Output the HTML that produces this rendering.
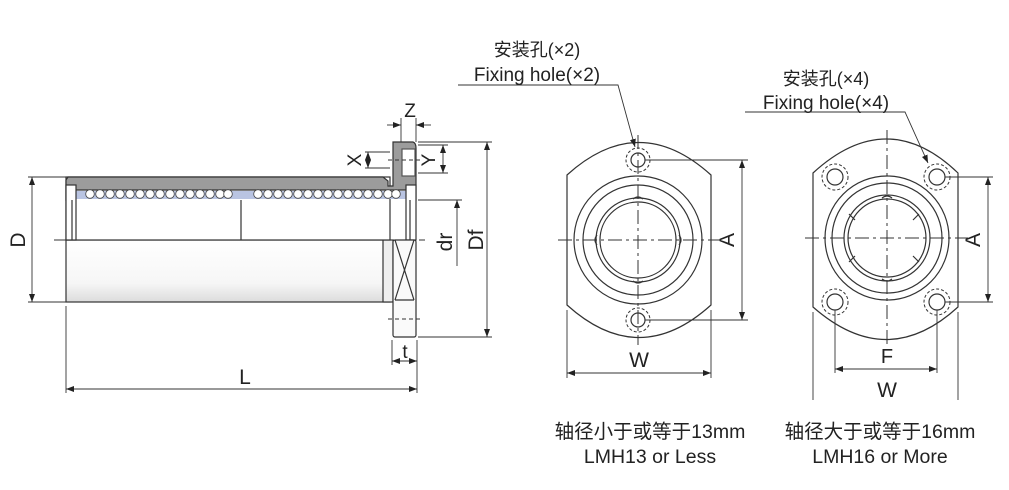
<!DOCTYPE html>
<html><head><meta charset="utf-8"><style>
html,body{margin:0;padding:0;background:#fff;width:1009px;height:490px;overflow:hidden}
text{font-family:"Liberation Sans","Noto Sans CJK SC",sans-serif;fill:#222}
</style></head><body>
<svg width="1009" height="490" viewBox="0 0 1009 490" xmlns="http://www.w3.org/2000/svg">
<defs>
<linearGradient id="tg" x1="0" y1="0" x2="0" y2="1">
<stop offset="0" stop-color="#ffffff"/><stop offset="0.7" stop-color="#f6f6f6"/><stop offset="1" stop-color="#dcdcdc"/></linearGradient>
<marker id="ar" markerWidth="8" markerHeight="6" refX="8" refY="3" orient="auto-start-reverse" markerUnits="userSpaceOnUse"><path d="M0,0 L8,3 L0,6 Z" fill="#222"/></marker>
</defs>
<g stroke="#333" stroke-width="1.2" fill="none">
<rect x="66" y="240" width="324" height="62" fill="url(#tg)"/>
<rect x="383" y="240" width="10" height="62" fill="#eee"/>
<rect x="66" y="177" width="324" height="63" fill="#fff"/>
<path d="M68,177 L383,177 L388,181 L388,186 L393,186 L393,142 L413,142 Q416,143 416,148 L416,200 L408,200 L408,190 L75,190 L75,200 L66,200 L66,180 Z" fill="#9c9c9c"/>
<rect x="402" y="149" width="13" height="27" fill="#fff" stroke="#555"/>
<rect x="75" y="191" width="333" height="8" fill="#b9c4e2" stroke="none"/>
<rect x="66" y="185" width="10" height="55" fill="#fff"/>
<rect x="406" y="185" width="10" height="55" fill="#fff"/>
<line x1="72" y1="200" x2="72" y2="240"/><line x1="410" y1="200" x2="410" y2="240"/>
<line x1="241" y1="200" x2="241" y2="240"/>
<rect x="393" y="240" width="23" height="97" rx="2" fill="#fafafa"/>
<line x1="395" y1="240" x2="414" y2="300"/><line x1="414" y1="240" x2="395" y2="300"/>
<line x1="395" y1="300" x2="414" y2="300"/>
<line x1="388" y1="319" x2="420" y2="319" stroke-dasharray="4,3" stroke-width="1"/>
<line x1="388" y1="160" x2="420" y2="160" stroke-dasharray="4,3" stroke-width="1"/>
<line x1="54" y1="240" x2="425" y2="240" stroke-dasharray="60,5,3,5" stroke-width="1"/>
</g>
<g fill="#fff" stroke="#444" stroke-width="0.8">
<circle cx="90" cy="194" r="4.3"/><circle cx="100" cy="194" r="4.3"/><circle cx="110" cy="194" r="4.3"/><circle cx="120" cy="194" r="4.3"/><circle cx="130" cy="194" r="4.3"/><circle cx="140" cy="194" r="4.3"/><circle cx="150" cy="194" r="4.3"/><circle cx="160" cy="194" r="4.3"/><circle cx="170" cy="194" r="4.3"/><circle cx="180" cy="194" r="4.3"/><circle cx="190" cy="194" r="4.3"/><circle cx="200" cy="194" r="4.3"/><circle cx="210" cy="194" r="4.3"/><circle cx="220" cy="194" r="4.3"/><circle cx="228" cy="194" r="4.3"/>
<circle cx="258" cy="194" r="4.3"/><circle cx="268" cy="194" r="4.3"/><circle cx="278" cy="194" r="4.3"/><circle cx="288" cy="194" r="4.3"/><circle cx="298" cy="194" r="4.3"/><circle cx="308" cy="194" r="4.3"/><circle cx="318" cy="194" r="4.3"/><circle cx="328" cy="194" r="4.3"/><circle cx="338" cy="194" r="4.3"/><circle cx="348" cy="194" r="4.3"/><circle cx="358" cy="194" r="4.3"/><circle cx="368" cy="194" r="4.3"/><circle cx="378" cy="194" r="4.3"/><circle cx="388" cy="194" r="4.3"/><circle cx="396" cy="194" r="4.3"/>
</g>
<g stroke="#333" stroke-width="0.9" fill="none">
<line x1="28" y1="177" x2="66" y2="177"/><line x1="28" y1="302" x2="66" y2="302"/>
<line x1="32" y1="177" x2="32" y2="302" marker-start="url(#ar)" marker-end="url(#ar)"/>
<line x1="66" y1="306" x2="66" y2="393"/><line x1="417" y1="340" x2="417" y2="393"/>
<line x1="66" y1="389" x2="417" y2="389" marker-start="url(#ar)" marker-end="url(#ar)"/>
<line x1="392" y1="340" x2="392" y2="365"/>
<line x1="392" y1="361" x2="417" y2="361" marker-start="url(#ar)" marker-end="url(#ar)"/>
<line x1="401" y1="118" x2="401" y2="142"/><line x1="416" y1="118" x2="416" y2="142"/>
<line x1="387" y1="125" x2="401" y2="125" marker-end="url(#ar)"/><line x1="431" y1="125" x2="416" y2="125" marker-end="url(#ar)"/>
<line x1="365" y1="152" x2="390" y2="152"/><line x1="365" y1="168" x2="390" y2="168"/>
<line x1="368" y1="152" x2="368" y2="168" marker-start="url(#ar)" marker-end="url(#ar)"/>
<line x1="418" y1="145" x2="448" y2="145"/><line x1="418" y1="173" x2="448" y2="173"/>
<line x1="443" y1="145" x2="443" y2="173" marker-start="url(#ar)" marker-end="url(#ar)"/>
<line x1="418" y1="200" x2="462" y2="200"/>
<line x1="457" y1="200" x2="457" y2="266" marker-start="url(#ar)"/>
<line x1="418" y1="142" x2="492" y2="142"/><line x1="418" y1="337" x2="492" y2="337"/>
<line x1="487" y1="142" x2="487" y2="337" marker-start="url(#ar)" marker-end="url(#ar)"/>
</g>
<g font-size="21">
<text x="25" y="240" transform="rotate(-90 25 240)" text-anchor="middle">D</text>
<text x="245" y="384" text-anchor="middle">L</text>
<text x="405" y="358" text-anchor="middle" font-size="19">t</text>
<text x="410" y="117" text-anchor="middle" font-size="19">Z</text>
<text x="361" y="160" transform="rotate(-90 361 160)" text-anchor="middle" font-size="19">X</text>
<text x="435" y="160" transform="rotate(-90 435 160)" text-anchor="middle" font-size="19">Y</text>
<text x="452" y="242" transform="rotate(-90 452 242)" text-anchor="middle">dr</text>
<text x="483" y="240" transform="rotate(-90 483 240)" text-anchor="middle">Df</text>
</g>

<g stroke="#333" stroke-width="1.2" fill="none">
<path d="M567,175 Q639,110 711,175 L711,305 Q639,370 567,305 Z" fill="#fff"/>
<circle cx="638" cy="240" r="64"/><circle cx="638" cy="240" r="55"/>
<circle cx="638" cy="240" r="42"/><circle cx="638" cy="240" r="38"/>
<circle cx="638" cy="160" r="7"/><circle cx="638" cy="160" r="12" stroke-dasharray="3,2" stroke-width="1"/>
<circle cx="638" cy="320" r="7"/><circle cx="638" cy="320" r="12" stroke-dasharray="3,2" stroke-width="1"/>
<path d="M633,199 q5,-4 10,0 M633,281 q5,4 10,0 M597,235 q-4,5 0,10 M679,235 q4,5 0,10"/>
<line x1="558" y1="240" x2="720" y2="240" stroke-dasharray="14,4,3,4" stroke-width="1"/>
<line x1="638" y1="135" x2="638" y2="345" stroke-dasharray="14,4,3,4" stroke-width="1"/>
<line x1="645" y1="160" x2="748" y2="160" stroke-width="0.9"/><line x1="645" y1="320" x2="748" y2="320" stroke-width="0.9"/>
<line x1="742" y1="160" x2="742" y2="320" stroke-width="0.9" marker-start="url(#ar)" marker-end="url(#ar)"/>
<line x1="567" y1="310" x2="567" y2="378" stroke-width="0.9"/><line x1="711" y1="310" x2="711" y2="378" stroke-width="0.9"/>
<line x1="567" y1="373" x2="711" y2="373" stroke-width="0.9" marker-start="url(#ar)" marker-end="url(#ar)"/>
<path d="M458,85 L618,85 L635,147" stroke-width="0.9" marker-end="url(#ar)"/>
</g>
<text x="734" y="240" transform="rotate(-90 734 240)" text-anchor="middle" font-size="21">A</text>
<text x="639" y="367" text-anchor="middle" font-size="21">W</text>
<text x="537" y="56" text-anchor="middle" font-size="18">安装孔(×2)</text>
<text x="537" y="81" text-anchor="middle" font-size="19">Fixing hole(×2)</text>

<g stroke="#333" stroke-width="1.2" fill="none">
<path d="M813,173 Q887,105 958,173 L958,307 Q887,372 813,307 Z" fill="#fff"/>
<circle cx="887" cy="238" r="62"/><circle cx="887" cy="238" r="55"/>
<circle cx="887" cy="238" r="43"/><circle cx="887" cy="238" r="39"/>
<circle cx="835" cy="177" r="8"/><circle cx="835" cy="177" r="13" stroke-dasharray="3,2" stroke-width="1"/>
<circle cx="937" cy="177" r="8"/><circle cx="937" cy="177" r="13" stroke-dasharray="3,2" stroke-width="1"/>
<circle cx="835" cy="302" r="8"/><circle cx="835" cy="302" r="13" stroke-dasharray="3,2" stroke-width="1"/>
<circle cx="937" cy="302" r="8"/><circle cx="937" cy="302" r="13" stroke-dasharray="3,2" stroke-width="1"/>
<path d="M882,198 q5,-4 10,0 M882,279 q5,4 10,0 M849,214 l6,6 M919,214 l-6,6 M849,262 l6,-6 M919,262 l-6,-6"/>
<line x1="805" y1="238" x2="968" y2="238" stroke-dasharray="14,4,3,4" stroke-width="1"/>
<line x1="887" y1="130" x2="887" y2="345" stroke-dasharray="14,4,3,4" stroke-width="1"/>
<line x1="945" y1="177" x2="993" y2="177" stroke-width="0.9"/><line x1="945" y1="302" x2="993" y2="302" stroke-width="0.9"/>
<line x1="988" y1="177" x2="988" y2="302" stroke-width="0.9" marker-start="url(#ar)" marker-end="url(#ar)"/>
<line x1="835" y1="310" x2="835" y2="373" stroke-width="0.9"/><line x1="937" y1="310" x2="937" y2="373" stroke-width="0.9"/>
<line x1="835" y1="369" x2="937" y2="369" stroke-width="0.9" marker-start="url(#ar)" marker-end="url(#ar)"/>
<line x1="813" y1="312" x2="813" y2="400" stroke-width="0.9"/><line x1="958" y1="312" x2="958" y2="400" stroke-width="0.9"/>
<path d="M745,112 L905,112 L928,163" stroke-width="0.9" marker-end="url(#ar)"/>
</g>
<text x="980" y="240" transform="rotate(-90 980 240)" text-anchor="middle" font-size="21">A</text>
<text x="887" y="363" text-anchor="middle" font-size="20">F</text>
<text x="887" y="397" text-anchor="middle" font-size="21">W</text>
<text x="826" y="85" text-anchor="middle" font-size="18">安装孔(×4)</text>
<text x="826" y="109" text-anchor="middle" font-size="19">Fixing hole(×4)</text>

<text x="650" y="438" text-anchor="middle" font-size="19.5">轴径小于或等于13mm</text>
<text x="650" y="463" text-anchor="middle" font-size="19.5">LMH13 or Less</text>
<text x="880" y="438" text-anchor="middle" font-size="19.5">轴径大于或等于16mm</text>
<text x="880" y="463" text-anchor="middle" font-size="19.5">LMH16 or More</text>
</svg>
</body></html>
